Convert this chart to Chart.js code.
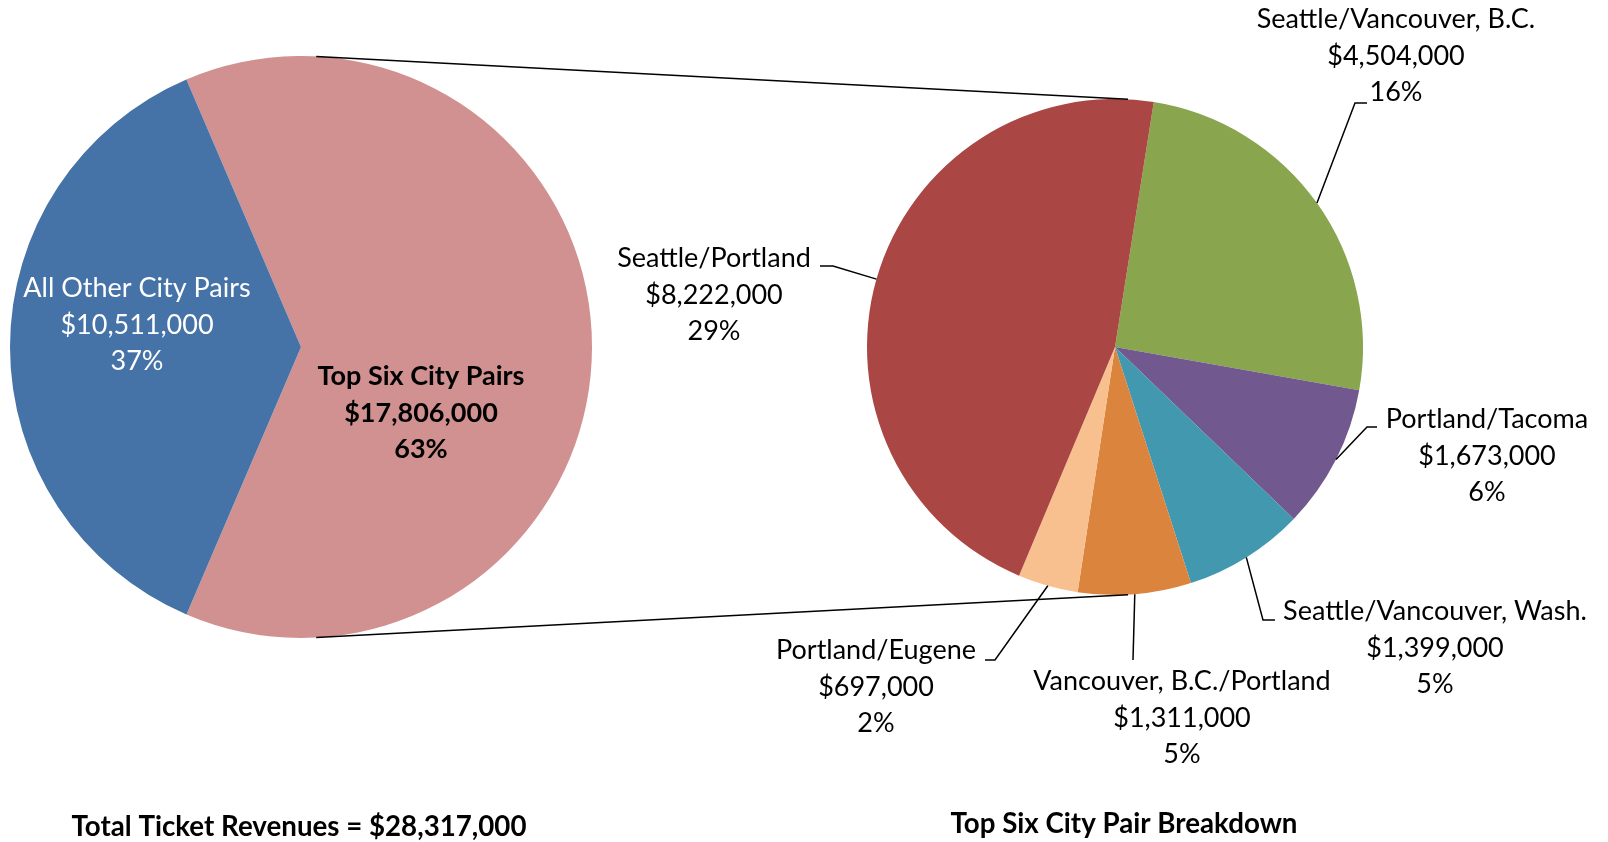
<!DOCTYPE html>
<html>
<head>
<meta charset="utf-8">
<title>Ticket Revenues by City Pair</title>
<script src="https://cdn.jsdelivr.net/npm/chart.js@4.4.1/dist/chart.umd.min.js"></script>
<style>
  html, body { margin: 0; padding: 0; background: #fff; overflow: hidden; }
  #wrap { position: relative; width: 1608px; height: 842px; }
  #wrap canvas { position: absolute; left: 0; top: 0; }
</style>
</head>
<body>
<div id="wrap">
  <canvas id="chart-total" width="1608" height="842"></canvas>
  <canvas id="chart-top6" width="1608" height="842"></canvas>
</div>
<script>
// ── Data ─────────────────────────────────────────────────────────────────────
const totalLabels  = ['Top Six City Pairs', 'All Other City Pairs'];
const totalValues  = [17806000, 10511000];
const totalColors  = ['#d09190', '#4572a7'];

const pairLabels = [
  'Seattle/Vancouver, B.C.',
  'Portland/Tacoma',
  'Seattle/Vancouver, Wash.',
  'Vancouver, B.C./Portland',
  'Portland/Eugene',
  'Seattle/Portland',
];
const pairValues = [4504000, 1673000, 1399000, 1311000, 697000, 8222000];
const pairColors = ['#89a54e', '#71588f', '#4198af', '#db843d', '#f8c08f', '#aa4643'];

const totalTitle = 'Total Ticket Revenues = $28,317,000';
const pairTitle  = 'Top Six City Pair Breakdown';

const grandTotal = totalValues.reduce((a, b) => a + b, 0);

// ── Layout (text placement, leader elbows) ───────────────────────────────────
const FONT = 'Lato, "Open Sans", sans-serif';
const FS = 27;
const LH = 36.5;
const TITLE_FS = 27.7;

// left pie: text centre x, middle-line y
const totalTextPos = [
  { x: 421, y: 413, bold: true,  color: '#000' },
  { x: 137, y: 325, bold: false, color: '#fff' },
];

// right pie: text centre x, middle-line y, leader elbow and end
const pairTextPos = [
  { x: 1396, y: 56,  elbow: [1355, 103], end: [1367, 103] },
  { x: 1487, y: 456, elbow: [1367, 427], end: [1377, 427] },
  { x: 1435, y: 648, elbow: [1263, 620], end: [1275, 620] },
  { x: 1182, y: 718, elbow: null,        end: [1133, 660] },
  { x: 876,  y: 687, elbow: [995, 660],  end: [985, 660] },
  { x: 714,  y: 295, elbow: [833, 266],  end: [820, 266] },
];

function money(v) { return '$' + v.toLocaleString('en-US'); }
function pct(v) { return Math.round(v / grandTotal * 100) + '%'; }

function drawBlock(ctx, lines, x, midY, bold, color) {
  ctx.save();
  ctx.font = (bold ? 'bold ' : '') + FS + 'px ' + FONT;
  ctx.fillStyle = color;
  ctx.textAlign = 'center';
  ctx.textBaseline = 'middle';
  lines.forEach((t, i) => ctx.fillText(t, x, midY + (i - 1) * LH));
  ctx.restore();
}

function drawTitle(ctx, text, x, y) {
  ctx.save();
  ctx.font = 'bold ' + TITLE_FS + 'px ' + FONT;
  ctx.fillStyle = '#000';
  ctx.textAlign = 'center';
  ctx.textBaseline = 'middle';
  ctx.fillText(text, x, y);
  ctx.restore();
}

function arcPoint(el, ang, r) {
  return [el.x + Math.cos(ang) * r, el.y + Math.sin(ang) * r];
}

// ── Plugins ──────────────────────────────────────────────────────────────────
const totalLabelPlugin = {
  id: 'totalLabelPlugin',
  afterDraw(chart) {
    const ctx = chart.ctx;
    totalValues.forEach((v, i) => {
      const p = totalTextPos[i];
      drawBlock(ctx, [totalLabels[i], money(v), pct(v)], p.x, p.y, p.bold, p.color);
    });
    drawTitle(ctx, totalTitle, 299, 827);
  }
};

const pairLabelPlugin = {
  id: 'pairLabelPlugin',
  afterDraw(chart) {
    const ctx = chart.ctx;
    const arcs = chart.getDatasetMeta(0).data;

    // leader lines
    ctx.save();
    ctx.strokeStyle = '#000';
    ctx.lineWidth = 1.5;
    arcs.forEach((el, i) => {
      const mid = (el.startAngle + el.endAngle) / 2;
      const p = pairTextPos[i];
      const s = arcPoint(el, mid, el.outerRadius);
      ctx.beginPath();
      ctx.moveTo(s[0], s[1]);
      if (p.elbow) ctx.lineTo(p.elbow[0], p.elbow[1]);
      ctx.lineTo(p.end[0], p.end[1]);
      ctx.stroke();
    });

    // connectors between the two pies
    const big = totalChart.getDatasetMeta(0).data[0];
    const small = arcs[0];
    const off = 3 * Math.PI / 180;
    const topA = -Math.PI / 2 + off, botA = Math.PI / 2 - off;
    [topA, botA].forEach(a => {
      const p1 = arcPoint(big, a, big.outerRadius);
      const p2 = arcPoint(small, a, small.outerRadius);
      ctx.beginPath();
      ctx.moveTo(p1[0], p1[1]);
      ctx.lineTo(p2[0], p2[1]);
      ctx.stroke();
    });
    ctx.restore();

    pairValues.forEach((v, i) => {
      const p = pairTextPos[i];
      drawBlock(ctx, [pairLabels[i], money(v), pct(v)], p.x, p.y, false, '#000');
    });

    drawTitle(ctx, pairTitle, 1124, 824);
  }
};

const baseOptions = {
  responsive: false,
  animation: false,
  events: [],
  plugins: { legend: { display: false }, tooltip: { enabled: false } },
};

// ── Charts ───────────────────────────────────────────────────────────────────
const totalChart = new Chart(document.getElementById('chart-total'), {
  type: 'pie',
  data: {
    labels: totalLabels,
    datasets: [{ data: totalValues, backgroundColor: totalColors, borderWidth: 0 }],
  },
  options: {
    ...baseOptions,
    rotation: -23.2,
    layout: { padding: { left: 10, right: 1016, top: 56, bottom: 204 } },
  },
  plugins: [totalLabelPlugin],
});

const pairChart = new Chart(document.getElementById('chart-top6'), {
  type: 'pie',
  data: {
    labels: pairLabels,
    datasets: [{ data: pairValues, backgroundColor: pairColors, borderWidth: 0 }],
  },
  options: {
    ...baseOptions,
    rotation: 9,
    layout: { padding: { left: 867, right: 245, top: 99, bottom: 247 } },
  },
  plugins: [pairLabelPlugin],
});
</script>
</body>
</html>
